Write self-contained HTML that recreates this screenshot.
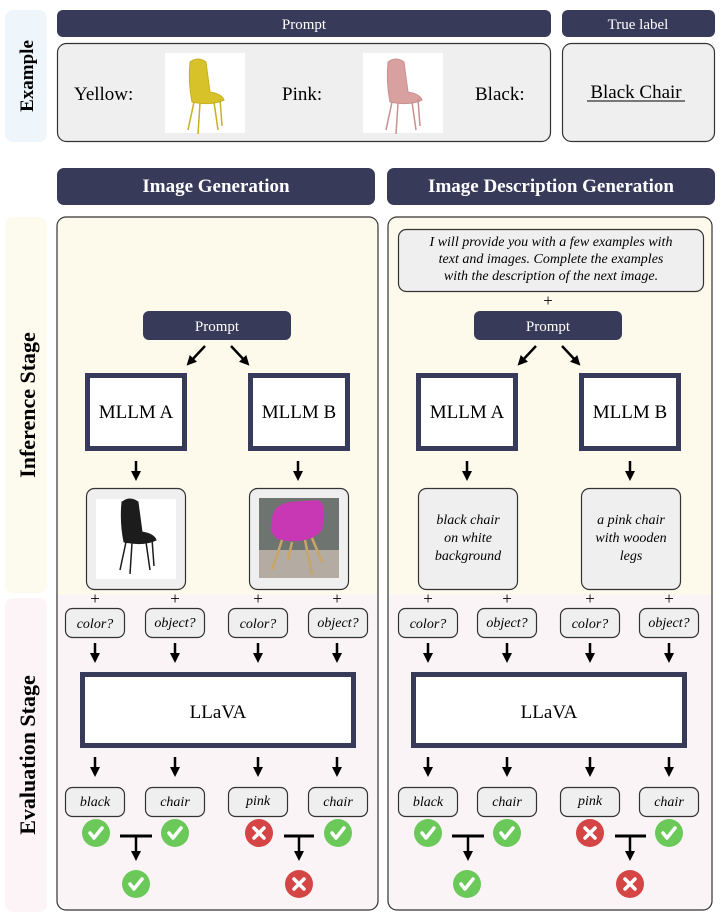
<!DOCTYPE html>
<html><head><meta charset="utf-8"><style>
html,body{margin:0;padding:0;background:#fff}
svg{display:block}
svg, svg text{font-family:"Liberation Serif","Times New Roman",serif !important}
</style></head><body>
<svg width="721" height="918" viewBox="0 0 721 918" xmlns="http://www.w3.org/2000/svg" font-family="Liberation Serif, serif">
<defs>
<marker id="ah" viewBox="0 0 10 10" refX="5" refY="5" markerWidth="4" markerHeight="4" orient="auto"><path d="M0,0 L10,5 L0,10 z" fill="#000"/></marker>
<g id="ok"><circle r="14" fill="#6bc95a"/><path d="M-6,0 L-2,5 L6,-5" stroke="#fff" stroke-width="3.5" fill="none" stroke-linecap="round" stroke-linejoin="round"/></g>
<g id="no"><circle r="14" fill="#d64545"/><path d="M-5,-5 L5,5 M5,-5 L-5,5" stroke="#fff" stroke-width="3.5" stroke-linecap="round"/></g>
<g id="chair"><path d="M-12,-28 Q-4,-34 4,-28 L8,2 Q20,4 22,10 Q10,16 -10,12 Q-14,-8 -12,-28z"/><path d="M-8,12 L-14,40 M-2,13 L-4,44 M12,12 L16,40 M18,9 L20,36" stroke-width="1.5" fill="none"/></g>
<g id="dn"><line x1="0" y1="0" x2="0" y2="15" stroke="#000" stroke-width="2.5" marker-end="url(#ah)"/></g>
</defs>

<!-- Example -->
<rect x="5" y="10" width="42" height="132" rx="8" fill="#eef5fb"/>
<text transform="translate(33,76) rotate(-90)" text-anchor="middle" font-size="19" font-weight="bold">Example</text>
<rect x="57" y="10" width="494" height="27" rx="6" fill="#383a5a"/>
<text x="304" y="29" text-anchor="middle" font-size="15" fill="#fff">Prompt</text>
<rect x="562" y="10" width="153" height="27" rx="6" fill="#383a5a"/>
<text x="638" y="29" text-anchor="middle" font-size="15" fill="#fff">True label</text>
<rect x="57.5" y="43.5" width="493" height="98" rx="9" fill="#efefef" stroke="#333" stroke-width="1.2"/>
<rect x="562.5" y="43.5" width="152" height="98" rx="9" fill="#efefef" stroke="#333" stroke-width="1.2"/>
<text x="74" y="100" font-size="19">Yellow:</text>
<rect x="165" y="53" width="80" height="80" fill="#fff"/>
<use href="#chair" x="202" y="90" fill="#d8c22a" stroke="#c8b020"/>
<text x="282" y="100" font-size="19">Pink:</text>
<rect x="363" y="53" width="80" height="80" fill="#fff"/>
<use href="#chair" x="400" y="90" fill="#d9a0a0" stroke="#c89090"/>
<text x="475" y="100" font-size="19">Black:</text>
<text x="636" y="98" text-anchor="middle" font-size="19">Black Chair</text>
<line x1="587" y1="101" x2="685" y2="101" stroke="#000" stroke-width="1"/>

<!-- Headers -->
<rect x="57" y="168" width="318" height="37" rx="7" fill="#383a5a"/>
<text x="216" y="192" text-anchor="middle" font-size="19" font-weight="bold" fill="#fff">Image Generation</text>
<rect x="387" y="168" width="328" height="37" rx="7" fill="#383a5a"/>
<text x="551" y="192" text-anchor="middle" font-size="19" font-weight="bold" fill="#fff">Image Description Generation</text>

<!-- side strips -->
<rect x="5" y="217" width="42" height="376" rx="8" fill="#fdfaee"/>
<text transform="translate(35,405) rotate(-90)" text-anchor="middle" font-size="22" font-weight="bold">Inference Stage</text>
<rect x="5" y="598" width="42" height="314" rx="8" fill="#fcf4f6"/>
<text transform="translate(35,755) rotate(-90)" text-anchor="middle" font-size="22" font-weight="bold">Evaluation Stage</text>

<!-- panels -->
<path d="M57,595 V226 Q57,217 66,217 H369 Q378,217 378,226 V595z" fill="#fdfaec"/>
<path d="M57,595 V901 Q57,910 66,910 H369 Q378,910 378,901 V595z" fill="#fbf4f6"/>
<rect x="57" y="217" width="321" height="693" rx="9" fill="none" stroke="#333" stroke-width="1.2"/>
<path d="M388,595 V226 Q388,217 397,217 H703 Q712,217 712,226 V595z" fill="#fdfaec"/>
<path d="M388,595 V901 Q388,910 397,910 H703 Q712,910 712,901 V595z" fill="#fbf4f6"/>
<rect x="388" y="217" width="324" height="693" rx="9" fill="none" stroke="#333" stroke-width="1.2"/>

<!-- LEFT inference -->
<rect x="143" y="311" width="148" height="29" rx="6" fill="#383a5a"/>
<text x="217" y="331" text-anchor="middle" font-size="15" fill="#fff">Prompt</text>
<line x1="205" y1="346" x2="190" y2="362" stroke="#000" stroke-width="2.5" marker-end="url(#ah)"/>
<line x1="231" y1="346" x2="246" y2="362" stroke="#000" stroke-width="2.5" marker-end="url(#ah)"/>
<rect x="87.5" y="375.5" width="97" height="73" fill="#fff" stroke="#383a5a" stroke-width="5"/>
<text x="136" y="418" text-anchor="middle" font-size="19">MLLM A</text>
<rect x="250.5" y="375.5" width="97" height="73" fill="#fff" stroke="#383a5a" stroke-width="5"/>
<text x="299" y="418" text-anchor="middle" font-size="19">MLLM B</text>
<use href="#dn" x="136" y="461"/><use href="#dn" x="298" y="461"/>
<rect x="86.5" y="488.5" width="99" height="101" rx="8" fill="#efefef" stroke="#333" stroke-width="1.2"/>
<rect x="96" y="499" width="80" height="80" fill="#fff"/>
<use href="#chair" x="134" y="530" fill="#1c1c1c" stroke="#1c1c1c"/>
<rect x="249.5" y="488.5" width="99" height="101" rx="8" fill="#efefef" stroke="#333" stroke-width="1.2"/>
<rect x="259" y="498" width="80" height="80" fill="#6e7570"/>
<rect x="259" y="550" width="80" height="28" fill="#b4aca2"/>
<path d="M272,520 Q272,505 290,502 L318,500 Q328,505 322,530 Q310,545 280,540 Q268,535 272,520z" fill="#c838b4"/>
<path d="M282,540 L272,570 M292,542 L288,560 M305,540 L312,575 M312,538 L322,562" stroke="#c9a56a" stroke-width="2.5"/>

<!-- RIGHT inference -->
<rect x="398.5" y="229.5" width="305" height="62" rx="8" fill="#efefef" stroke="#333" stroke-width="1.2"/>
<g font-style="italic" font-size="14" text-anchor="middle">
<text x="551" y="246">I will provide you with a few examples with</text>
<text x="551" y="263">text and images. Complete the examples</text>
<text x="551" y="280">with the description of the next image.</text>
</g>
<text x="548" y="306" text-anchor="middle" font-size="17">+</text>
<rect x="474" y="311" width="148" height="29" rx="6" fill="#383a5a"/>
<text x="548" y="331" text-anchor="middle" font-size="15" fill="#fff">Prompt</text>
<line x1="536" y1="346" x2="521" y2="362" stroke="#000" stroke-width="2.5" marker-end="url(#ah)"/>
<line x1="562" y1="346" x2="577" y2="362" stroke="#000" stroke-width="2.5" marker-end="url(#ah)"/>
<rect x="418.5" y="375.5" width="97" height="73" fill="#fff" stroke="#383a5a" stroke-width="5"/>
<text x="467" y="418" text-anchor="middle" font-size="19">MLLM A</text>
<rect x="581.5" y="375.5" width="97" height="73" fill="#fff" stroke="#383a5a" stroke-width="5"/>
<text x="630" y="418" text-anchor="middle" font-size="19">MLLM B</text>
<use href="#dn" x="467" y="461"/><use href="#dn" x="630" y="461"/>
<rect x="418.5" y="488.5" width="99" height="101" rx="8" fill="#efefef" stroke="#333" stroke-width="1.2"/>
<rect x="581.5" y="488.5" width="99" height="101" rx="8" fill="#efefef" stroke="#333" stroke-width="1.2"/>
<g font-style="italic" font-size="14" text-anchor="middle">
<text x="468" y="524">black chair</text>
<text x="468" y="542">on white</text>
<text x="468" y="560">background</text>
<text x="631" y="524">a pink chair</text>
<text x="631" y="542">with wooden</text>
<text x="631" y="560">legs</text>
</g>

<!-- plus signs -->
<g font-size="17" text-anchor="middle">
<text x="95" y="604">+</text><text x="175" y="604">+</text><text x="258" y="604">+</text><text x="337" y="604">+</text>
<text x="428" y="604">+</text><text x="507" y="604">+</text><text x="590" y="604">+</text><text x="669" y="604">+</text>
</g>

<!-- questions -->
<g fill="#efefef" stroke="#333" stroke-width="1.2">
<rect x="65.5" y="608.5" width="59" height="29" rx="7"/><rect x="145.5" y="608.5" width="59" height="29" rx="7"/>
<rect x="228.5" y="608.5" width="59" height="29" rx="7"/><rect x="308.5" y="608.5" width="59" height="29" rx="7"/>
<rect x="398.5" y="608.5" width="59" height="29" rx="7"/><rect x="477.5" y="608.5" width="59" height="29" rx="7"/>
<rect x="560.5" y="608.5" width="59" height="29" rx="7"/><rect x="639.5" y="608.5" width="59" height="29" rx="7"/>
</g>
<g font-size="14" text-anchor="middle" font-style="italic">
<text x="95" y="628">color?</text><text x="175" y="627">object?</text><text x="258" y="628">color?</text><text x="338" y="627">object?</text>
<text x="428" y="628">color?</text><text x="507" y="627">object?</text><text x="590" y="628">color?</text><text x="669" y="627">object?</text>
</g>
<use href="#dn" x="95" y="643"/><use href="#dn" x="175" y="643"/><use href="#dn" x="258" y="643"/><use href="#dn" x="337" y="643"/>
<use href="#dn" x="428" y="643"/><use href="#dn" x="507" y="643"/><use href="#dn" x="590" y="643"/><use href="#dn" x="669" y="643"/>

<!-- LLaVA -->
<rect x="82.5" y="674.5" width="271" height="71" fill="#fff" stroke="#383a5a" stroke-width="5"/>
<text x="218" y="718" text-anchor="middle" font-size="19">LLaVA</text>
<rect x="413.5" y="674.5" width="271" height="71" fill="#fff" stroke="#383a5a" stroke-width="5"/>
<text x="549" y="718" text-anchor="middle" font-size="19">LLaVA</text>

<use href="#dn" x="95" y="757"/><use href="#dn" x="175" y="757"/><use href="#dn" x="258" y="757"/><use href="#dn" x="337" y="757"/>
<use href="#dn" x="428" y="757"/><use href="#dn" x="507" y="757"/><use href="#dn" x="590" y="757"/><use href="#dn" x="669" y="757"/>

<!-- answers -->
<g fill="#efefef" stroke="#333" stroke-width="1.2">
<rect x="65.5" y="787.5" width="59" height="29" rx="7"/><rect x="145.5" y="787.5" width="59" height="29" rx="7"/>
<rect x="228.5" y="787.5" width="59" height="29" rx="7"/><rect x="308.5" y="787.5" width="59" height="29" rx="7"/>
<rect x="398.5" y="787.5" width="59" height="29" rx="7"/><rect x="477.5" y="787.5" width="59" height="29" rx="7"/>
<rect x="560.5" y="787.5" width="59" height="29" rx="7"/><rect x="639.5" y="787.5" width="59" height="29" rx="7"/>
</g>
<g font-size="14" text-anchor="middle" font-style="italic">
<text x="95" y="806">black</text><text x="175" y="806">chair</text><text x="258" y="805">pink</text><text x="338" y="806">chair</text>
<text x="428" y="806">black</text><text x="507" y="806">chair</text><text x="590" y="805">pink</text><text x="669" y="806">chair</text>
</g>

<!-- checks -->
<use href="#ok" x="96" y="833"/><use href="#ok" x="175" y="833"/><use href="#no" x="259" y="833"/><use href="#ok" x="338" y="833"/>
<use href="#ok" x="428" y="833"/><use href="#ok" x="507" y="833"/><use href="#no" x="590" y="833"/><use href="#ok" x="669" y="833"/>
<g stroke="#000" stroke-width="3">
<line x1="120" y1="836" x2="152" y2="836"/><line x1="284" y1="836" x2="314" y2="836"/>
<line x1="452" y1="836" x2="484" y2="836"/><line x1="615" y1="836" x2="646" y2="836"/>
</g>
<line x1="136" y1="836" x2="136" y2="856" stroke="#000" stroke-width="2.5" marker-end="url(#ah)"/>
<line x1="299" y1="836" x2="299" y2="856" stroke="#000" stroke-width="2.5" marker-end="url(#ah)"/>
<line x1="468" y1="836" x2="468" y2="856" stroke="#000" stroke-width="2.5" marker-end="url(#ah)"/>
<line x1="630" y1="836" x2="630" y2="856" stroke="#000" stroke-width="2.5" marker-end="url(#ah)"/>
<use href="#ok" x="136" y="884"/><use href="#no" x="299" y="884"/>
<use href="#ok" x="467" y="884"/><use href="#no" x="630" y="884"/>
</svg>
</body></html>
